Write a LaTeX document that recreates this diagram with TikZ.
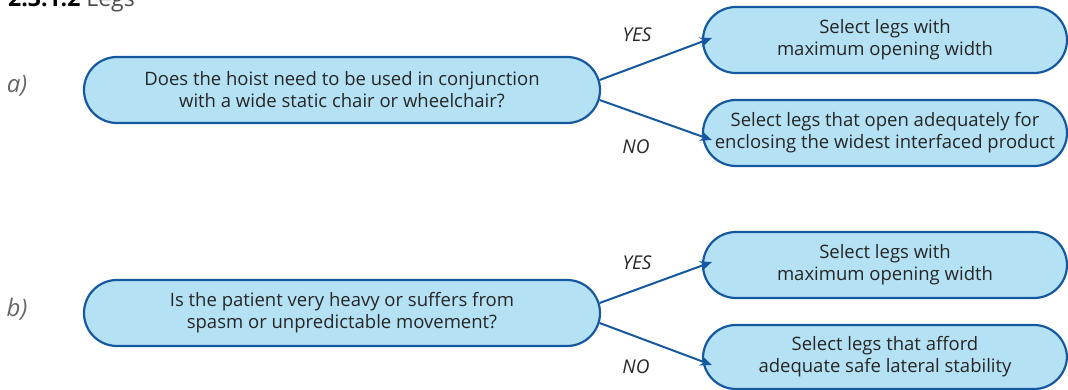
\documentclass[tikz,border=0pt]{standalone}
\usepackage{fontspec}
\setmainfont{Open Sans}
\usetikzlibrary{arrows.meta}
\definecolor{boxline}{RGB}{22,88,160}
\definecolor{boxfill}{RGB}{180,226,244}
\definecolor{boxtext}{RGB}{38,38,38}
\begin{document}
\begin{tikzpicture}[x=1pt,y=-1pt]
	\tikzstyle{question}=[draw=boxline,line width=2.2pt,fill=boxfill,rounded corners=33pt,minimum width=516pt,minimum height=66pt,align=center,text=boxtext,font=\fontsize{18.5}{22}\selectfont]
	\tikzstyle{answer}=[question,minimum width=364pt]
	\tikzstyle{edge}=[draw=boxline,line width=2pt,-{Stealth[length=12pt,width=10pt,inset=4pt]}]
	\tikzstyle{choice}=[text=boxtext,font=\fontsize{19}{22}\selectfont\itshape]
	\tikzstyle{part}=[text=black!60,font=\fontsize{24}{28}\selectfont\itshape]
	\useasboundingbox (0,0) rectangle (1068,390);
	\clip (0,0) rectangle (1068,390);
	\node [anchor=base west,inner sep=0pt,font=\fontsize{23}{28}\selectfont] (title) at (8,7) {\textbf{2.3.1.2} {\color{black!70}Legs}};
	% a)
	\begin{scope}
		\node [part] (pa) at (17,86) {a)};
		\node [question] (qa) at (342,90) {Does the hoist need to be used in conjunction\\with a wide static chair or wheelchair?};
		\node [answer] (ya) at (885,40) {Select legs with\\maximum opening width};
		\node [answer] (na) at (885,133) {Select legs that open adequately for\\enclosing the widest interfaced product};
		\node [choice] (yesa) at (637,35) {YES};
		\node [choice] (noa) at (636,147) {NO};
		\path[edge] ([xshift=-1.5pt,yshift=10pt]qa.east) -- ([xshift=10pt,yshift=2pt]ya.west);
		\path[edge] ([xshift=-1.5pt,yshift=-10pt]qa.east) -- ([xshift=10pt,yshift=-7pt]na.west);
	\end{scope}
	% b)
	\begin{scope}
		\node [part] (pb) at (17,309) {b)};
		\node [question] (qb) at (342,313) {Is the patient very heavy or suffers from\\spasm or unpredictable movement?};
		\node [answer] (yb) at (885,265) {Select legs with\\maximum opening width};
		\node [answer,minimum height=64pt] (nb) at (885,357) {Select legs that afford\\adequate safe lateral stability};
		\node [choice] (yesb) at (637,263) {YES};
		\node [choice] (nob) at (636,367) {NO};
		\path[edge] ([xshift=-1.5pt,yshift=10pt]qb.east) -- ([xshift=10pt,yshift=3pt]yb.west);
		\path[edge] ([xshift=-1.5pt,yshift=-10pt]qb.east) -- ([xshift=10pt,yshift=-8pt]nb.west);
	\end{scope}
\end{tikzpicture}
\end{document}
